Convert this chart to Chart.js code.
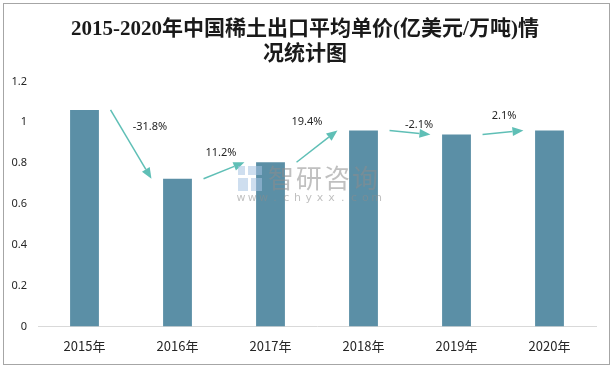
<!DOCTYPE html>
<html>
<head>
<meta charset="utf-8">
<script src="https://cdn.jsdelivr.net/npm/chart.js@4.4.0/dist/chart.umd.min.js"></script>
<style>
    html, body { margin: 0; padding: 0; background: #fff; }
    #wrap { width: 613px; height: 368px; }
</style>
</head>
<body>
<div id="wrap"><canvas id="ExportPriceChart" width="613" height="368"></canvas></div>
<script>
// data
const years = ["2015年", "2016年", "2017年", "2018年", "2019年", "2020年"];
const unitPrice = [1.06, 0.723, 0.804, 0.96, 0.94, 0.96];
const growthLabels = ["-31.8%", "11.2%", "19.4%", "-2.1%", "2.1%"];
const yTicks = [0, 0.2, 0.4, 0.6, 0.8, 1, 1.2];

// frame + white background
const framePlugin = {
    id: "frame",
    beforeDraw: function (chart) {
        const ctx = chart.ctx;
        ctx.save();
        ctx.fillStyle = "#ffffff";
        ctx.fillRect(0, 0, chart.width, chart.height);
        ctx.strokeStyle = "#a6a6a6";
        ctx.lineWidth = 1;
        ctx.strokeRect(3.5, 3.5, chart.width - 7, chart.height - 7);
        ctx.restore();
    }
};

// growth arrows between bars
const arrowPlugin = {
    id: "growthArrows",
    afterDatasetsDraw: function (chart) {
        const ctx = chart.ctx;
        const xs = chart.scales.x;
        const ys = chart.scales.y;
        const catW = xs.width / years.length;
        const labelShift = [[19, -18], [-3, -18], [-10, -24], [9, -8], [1, -17]];
        ctx.save();
        for (let i = 0; i < unitPrice.length - 1; i++) {
            const x1 = xs.getPixelForTick(i) + catW * 0.28;
            const y1 = ys.getPixelForValue(unitPrice[i]);
            const x2 = xs.getPixelForTick(i + 1) - catW * 0.28;
            const y2 = ys.getPixelForValue(unitPrice[i + 1]);
            const ang = Math.atan2(y2 - y1, x2 - x1);
            const headLen = 11, headW = 4.5;
            const bx = x2 - headLen * Math.cos(ang);
            const by = y2 - headLen * Math.sin(ang);

            ctx.strokeStyle = "#5fbfb6";
            ctx.fillStyle = "#5fbfb6";
            ctx.lineWidth = 1.5;
            ctx.beginPath();
            ctx.moveTo(x1, y1);
            ctx.lineTo(bx, by);
            ctx.stroke();
            ctx.beginPath();
            ctx.moveTo(x2, y2);
            ctx.lineTo(bx + headW * Math.sin(ang), by - headW * Math.cos(ang));
            ctx.lineTo(bx - headW * Math.sin(ang), by + headW * Math.cos(ang));
            ctx.closePath();
            ctx.fill();

            ctx.fillStyle = "#262626";
            ctx.font = "11px 'Noto Sans', sans-serif";
            ctx.textAlign = "center";
            ctx.textBaseline = "middle";
            ctx.fillText(growthLabels[i], (x1 + x2) / 2 + labelShift[i][0], (y1 + y2) / 2 + labelShift[i][1]);
        }
        ctx.restore();
    }
};

// faint watermark
const watermarkPlugin = {
    id: "watermark",
    afterDraw: function (chart) {
        const ctx = chart.ctx;
        ctx.save();
        ctx.fillStyle = "rgba(165, 195, 225, 0.55)";
        ctx.fillRect(238, 166, 7, 9);
        ctx.fillRect(248, 166, 14, 9);
        ctx.fillRect(238, 178, 10, 13);
        ctx.fillRect(251, 178, 11, 13);
        ctx.fillStyle = "rgba(140, 140, 140, 0.55)";
        ctx.font = "26px 'Noto Sans CJK SC', sans-serif";
        ctx.textBaseline = "middle";
        ctx.textAlign = "left";
        const wm = "智研咨询";
        for (let i = 0; i < wm.length; i++) {
            ctx.fillText(wm[i], 268 + i * 28, 178);
        }
        ctx.font = "11px 'DejaVu Sans', sans-serif";
        ctx.textAlign = "center";
        const url = "www.chyxx.com";
        for (let i = 0; i < url.length; i++) {
            ctx.fillText(url[i], 241 + i * 11.3, 198);
        }
        ctx.restore();
    }
};

const exportPriceChart = new Chart(document.getElementById("ExportPriceChart"), {
    type: "bar",
    data: {
        labels: years,
        datasets: [
            {
                label: "出口平均单价",
                data: unitPrice,
                backgroundColor: "#5b8fa6",
                borderWidth: 0,
                barPercentage: 0.31,
                categoryPercentage: 1.0
            }
        ]
    },
    options: {
        responsive: false,
        animation: false,
        devicePixelRatio: 1,
        layout: {
            padding: { left: 6, right: 9, top: 4, bottom: 10 }
        },
        plugins: {
            legend: { display: false },
            tooltip: { enabled: false },
            title: {
                display: true,
                text: ["2015-2020年中国稀土出口平均单价(亿美元/万吨)情", "况统计图"],
                color: "#1a1a1a",
                font: {
                    family: "'Liberation Serif', 'Noto Sans CJK SC', serif",
                    size: 21,
                    weight: "bold",
                    lineHeight: 1.2
                },
                padding: { top: 13, bottom: 14 }
            }
        },
        scales: {
            x: {
                grid: { display: false },
                border: { display: true, color: "#d9d9d9", width: 1 },
                ticks: {
                    color: "#262626",
                    padding: 4,
                    font: { family: "'Noto Sans CJK SC', sans-serif", size: 13 }
                }
            },
            y: {
                min: 0,
                max: 1.2,
                grid: { display: false, drawTicks: false },
                border: { display: false },
                afterBuildTicks: function (axis) {
                    axis.ticks = yTicks.map(function (v) { return { value: v }; });
                },
                afterFit: function (axis) {
                    axis.width = 32;
                },
                ticks: {
                    color: "#262626",
                    padding: 11,
                    font: { family: "'Noto Sans', sans-serif", size: 11 },
                    callback: function (value) {
                        return String(Number(value.toFixed(1)));
                    }
                }
            },
            // empty spacer on the right so the plot ends where the reference does
            spacer: {
                type: "linear",
                position: "right",
                display: true,
                grid: { display: false, drawTicks: false },
                border: { display: false },
                ticks: { display: false },
                afterFit: function (axis) {
                    axis.width = 8;
                }
            }
        }
    },
    plugins: [framePlugin, arrowPlugin, watermarkPlugin]
});
</script>
</body>
</html>
